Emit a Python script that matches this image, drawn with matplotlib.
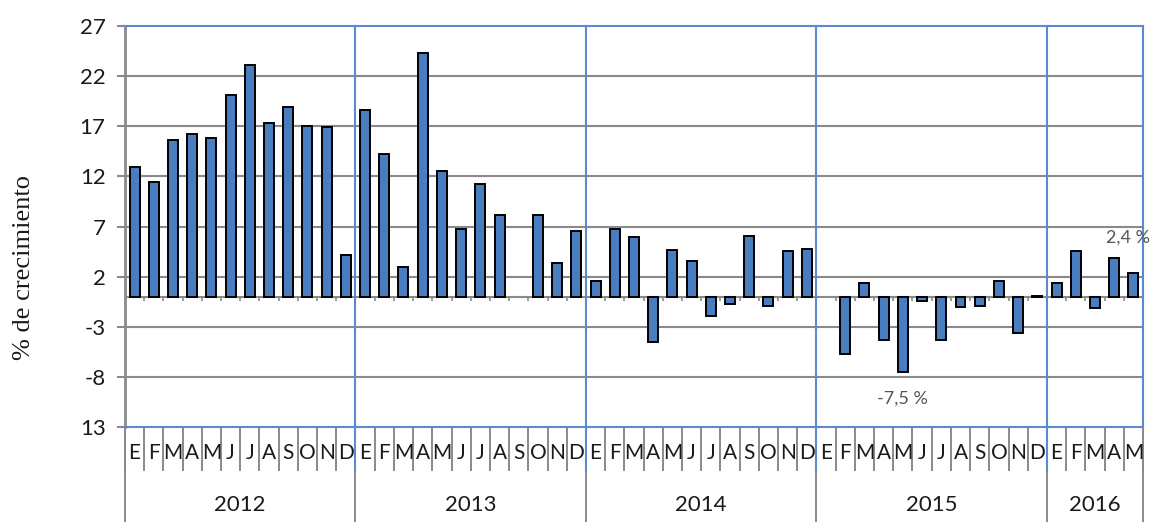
import numpy as np
import matplotlib
matplotlib.use("Agg")
import matplotlib.pyplot as plt

# Crecimiento interanual mensual (%), enero 2012 - mayo 2016
YEARS = ["2012", "2013", "2014", "2015", "2016"]
MONTHS = ["E", "F", "M", "A", "M", "J", "J", "A", "S", "O", "N", "D"]
v2012 = [12.9, 11.4, 15.6, 16.2, 15.8, 20.1, 23.1, 17.3, 18.9, 17.0, 16.9, 4.2]
v2013 = [18.6, 14.2, 3.0, 24.3, 12.5, 6.8, 11.2, 8.2, np.nan, 8.2, 3.4, 6.6]
v2014 = [1.6, 6.8, 6.0, -4.5, 4.7, 3.6, -1.9, -0.7, 6.1, -0.9, 4.6, 4.8]
v2015 = [np.nan, -5.7, 1.4, -4.3, -7.5, -0.4, -4.3, -1.0, -0.9, 1.6, -3.6, 0.1]
v2016 = [1.4, 4.6, -1.1, 3.9, 2.4]
YTICKS = [27, 22, 17, 12, 7, 2, -3, -8, -13]
YTICK_LABELS = ["27", "22", "17", "12", "7", "2", "-3", "-8", "13"]

series = [v2012, v2013, v2014, v2015, v2016]
values = np.concatenate([np.array(s, dtype=float) for s in series])
months = [m for s in series for m in MONTHS[:len(s)]]
n = len(values)
x = np.arange(n)

GRID = "#8a8a8a"
BLUE = "#5b8ad0"
BAR = "#4a7dc0"
INK = "#1a1a1a"
FONT = "Lato"

fig = plt.figure(figsize=(11.53, 5.22), dpi=100)
ax = fig.add_axes([0.1084, 0.182, 0.8829, 0.768])

ax.bar(x, values, width=0.52, color=BAR, edgecolor="black", linewidth=1.4, zorder=3)

ax.set_xlim(-0.5, n - 0.5)
ax.set_ylim(-13, 27)
ax.set_yticks(YTICKS)
ax.set_yticklabels(YTICK_LABELS, fontsize=16, family=FONT, color=INK)
ax.tick_params(axis="y", length=6, width=1.5, color=GRID, pad=8)
ax.set_xticks([])
for y in YTICKS[1:-1]:
    ax.axhline(y, color=GRID, lw=1.5, zorder=1)

# zero line with short ticks between months
ax.axhline(0, color=GRID, lw=1.5, zorder=2)
ax.vlines(np.arange(n + 1) - 0.5, -0.45, 0, color=GRID, lw=1.2, zorder=2)

ax.spines["left"].set_color(GRID)
ax.spines["left"].set_linewidth(2)
for side in ("top", "right", "bottom"):
    ax.spines[side].set_color(BLUE)
    ax.spines[side].set_linewidth(1.5)

# year separators and two-level category axis
tr = ax.get_xaxis_transform()
row_bottom = -0.107
fig_bottom = -0.24
bounds = np.cumsum([0] + [len(s) for s in series]) - 0.5
for b in np.arange(n + 1) - 0.5:
    ax.plot([b, b], [0, row_bottom], color=GRID, lw=1.4, transform=tr, clip_on=False)
for b in bounds:
    ax.plot([b, b], [0, fig_bottom], color=GRID, lw=1.4, transform=tr, clip_on=False)
for b in bounds[1:-1]:
    ax.plot([b, b], [1, row_bottom], color=BLUE, lw=1.5, transform=tr, clip_on=False, zorder=4)

for xi, m in zip(x, months):
    ax.text(xi, -0.064, m, transform=tr, ha="center", va="center",
            fontsize=15, family=FONT, color=INK)
for year, lo, hi in zip(YEARS, bounds[:-1], bounds[1:]):
    ax.text((lo + hi) / 2, -0.195, year, transform=tr, ha="center", va="center",
            fontsize=16, family=FONT, color=INK)

# value labels for the minimum and the latest month
i_min = int(np.nanargmin(values))
ax.text(i_min, values[i_min] - 2.7, f"{values[i_min]:.1f} %".replace(".", ","),
        ha="center", va="center", fontsize=13, family=FONT, color="#555555")
ax.text(n - 1.3, values[-1] + 3.5, f"{values[-1]:.1f} %".replace(".", ","),
        ha="center", va="center", fontsize=13, family=FONT, color="#555555")

fig.text(0.021, 0.487, "% de crecimiento", rotation=90, ha="center", va="center",
         fontsize=19, family="Liberation Serif", color=INK)

fig.savefig("out.png", dpi=100)
